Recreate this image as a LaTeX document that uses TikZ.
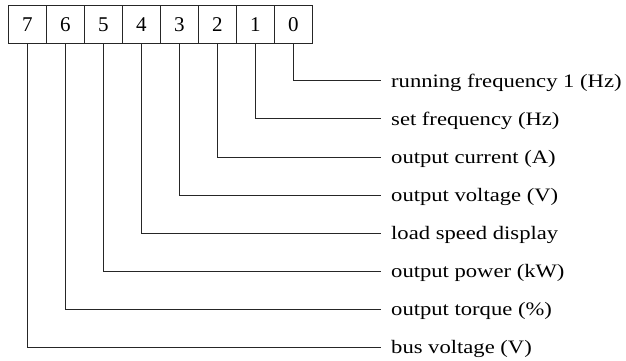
\documentclass[tikz,border=0pt]{standalone}
\usepackage{fontspec}
\setmainfont{Liberation Serif}
\newfontfamily\lblfont[FakeStretch=1.19]{Liberation Serif}
\begin{document}
\begin{tikzpicture}[x=1pt,y=-1pt,
  bit/.style={draw=black!85, line width=0.8pt, minimum width=38pt, minimum height=38pt, inner sep=0pt, font=\fontsize{21}{21}\selectfont},
  lbl/.style={anchor=west, inner xsep=10pt, inner ysep=0pt, text height=12.4pt, text depth=0pt, font=\lblfont\fontsize{19}{19}\selectfont},
  wire/.style={draw=black!85, line width=0.8pt}]
\useasboundingbox (0,0) rectangle (626,360);
\foreach \i in {0,...,7}{
  \node[bit] (b\i) at ({293.3-38*\i}, 24.4) {\i};
}
\foreach \i/\t in {0/running frequency 1 (Hz), 1/set frequency (Hz), 2/output current (A), 3/output voltage (V), 4/load speed display, 5/output power (kW), 6/output torque (\%), 7/bus voltage (V)}{
  \node[lbl] (l\i) at (381, {80.8+38.05*\i}) {\t};
  \draw[wire] (b\i.south) |- (l\i.west);
}
\end{tikzpicture}
\end{document}
